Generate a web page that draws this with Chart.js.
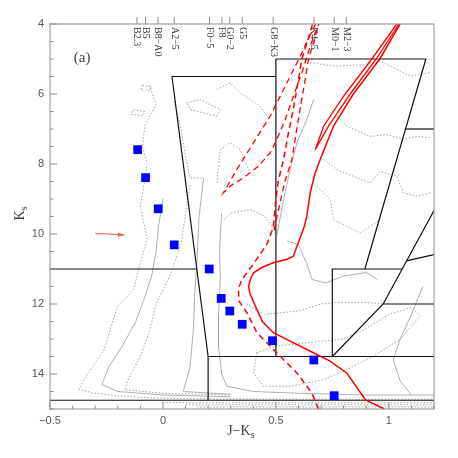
<!DOCTYPE html>
<html>
<head>
<meta charset="utf-8">
<script src="https://cdn.jsdelivr.net/npm/chart.js@4.4.1/dist/chart.umd.min.js"></script>
<style>
  body { margin: 0; background: #fff; }
  #chartID { display: block; }
</style>
</head>
<body>
<canvas id="chartID" width="458" height="458"></canvas>
<script>
// spectral types along the top axis, J-Ks colour
const specTypes = ['B2.3', 'B5', 'B8\u2212A0', 'A2\u22125', 'F0\u22125', 'F8', 'G0\u22122', 'G5', 'G8\u2212K3', 'K4\u22125', 'M0\u22121', 'M2\u22123']
const specColours = [-0.115, -0.077, -0.022, 0.05, 0.206, 0.261, 0.296, 0.351, 0.488, 0.669, 0.758, 0.812]

// blue squares (J-Ks, Ks)
const squareJK = [-0.112, -0.077, -0.021, 0.05, 0.205, 0.258, 0.296, 0.351, 0.485, 0.668, 0.758]
const squareK = [7.59, 8.39, 9.28, 10.31, 11.0, 11.84, 12.2, 12.58, 13.05, 13.6, 14.62]

// red isochrones
const isoSolid = [[0.98,15.0],[0.897,14.74],[0.814,13.97],[0.74,13.63],[0.637,13.3],[0.55,13.02],[0.489,12.82],[0.44,12.5],[0.416,12.16],[0.385,11.7],[0.379,11.49],[0.39,11.25],[0.401,11.11],[0.44,10.95],[0.489,10.82],[0.55,10.72],[0.578,10.63],[0.593,10.35],[0.608,10.1],[0.625,9.8],[0.637,9.49],[0.652,8.82],[0.672,8.3],[0.696,7.87],[0.755,6.92],[0.843,6.0],[0.96,5.0],[1.05,4.0]]
const isoSolidLoop = [[1.035,4.0],[0.925,5.0],[0.807,6.0],[0.711,6.92],[0.674,7.59],[0.733,6.92],[0.829,6.0],[0.944,5.0],[1.045,4.0]]
const isoDashed = [[0.689,15.0],[0.659,14.54],[0.593,13.97],[0.489,13.3],[0.416,12.82],[0.372,12.25],[0.335,11.9],[0.335,11.55],[0.35,11.3],[0.401,10.85],[0.46,10.3],[0.489,9.8],[0.497,9.2],[0.51,8.5],[0.534,7.87],[0.556,7.1],[0.577,6.44],[0.597,5.7],[0.615,5.0],[0.64,4.5],[0.662,4.0]]
const isoDashedB = [[0.492,9.9],[0.515,9.2],[0.54,8.5],[0.571,7.87],[0.59,7.1],[0.607,6.44],[0.627,5.7],[0.644,5.0],[0.668,4.5],[0.69,4.0]]
const isoDashedLoop = [[0.675,4.0],[0.608,4.92],[0.549,5.68],[0.475,6.63],[0.401,7.39],[0.327,8.16],[0.268,8.82],[0.30,8.62],[0.357,8.39],[0.423,8.06],[0.475,7.68],[0.504,7.3],[0.541,6.73],[0.578,6.06],[0.615,5.39],[0.652,4.63],[0.69,4.0]]

// black selection boxes
const boxLines = [
  [[0.04,5.5],[0.5,5.5]],
  [[0.04,5.5],[0.2,13.5],[0.2,14.75]],
  [[0.5,5.0],[0.5,13.5]],
  [[-0.5,11.0],[0.15,11.0]],
  [[0.2,13.5],[1.2,13.5]],
  [[-0.5,14.75],[1.2,14.75]],
  [[0.5,5.0],[1.164,5.0],[0.894,11.0]],
  [[0.75,13.5],[0.75,11.0],[1.059,11.0]],
  [[0.75,13.5],[0.975,12.0],[1.2,9.33]],
  [[0.975,12.0],[1.2,12.0]],
  [[1.078,10.77],[1.2,10.59]],
  [[1.073,7.0],[1.2,7.0]]
]

// density contours (grey)
const contoursDotted = [
  [[-0.06,5.75],[-0.03,6.3],[-0.08,6.9],[-0.09,7.5],[-0.07,8.0],[-0.08,8.44],[-0.1,9.2],[-0.07,10.16],[-0.1,10.82],[-0.13,11.59],[-0.2,12.06],[-0.22,12.44],[-0.26,13.3],[-0.31,13.78],[-0.35,14.16],[-0.37,14.44],[-0.31,14.54],[-0.2,14.63],[-0.06,14.68],[0.2,14.71],[0.6,14.72],[1.2,14.72]],
  [[0.12,8.6],[0.1,9.4],[0.08,10.3],[0.03,11.2],[-0.03,12.0],[-0.06,12.8],[-0.1,13.5],[-0.15,14.1],[-0.17,14.45],[0.0,14.55],[0.3,14.6]],
  [[0.27,9.6],[0.3,9.4],[0.39,9.3],[0.45,9.5],[0.5,9.9]],
  [[0.37,12.0],[0.45,12.3],[0.52,12.25],[0.6,12.2],[0.7,12.0],[0.78,11.95],[0.88,11.95],[1.0,12.0]],
  [[0.416,13.39],[0.401,13.97],[0.445,14.35],[0.563,14.35],[0.711,14.16],[0.815,13.87],[0.932,13.49],[1.05,13.01],[1.138,12.35],[1.1,12.1],[1.0,12.3],[0.9,12.7],[0.8,13.0],[0.65,13.1],[0.5,13.2],[0.416,13.39]],
  [[0.106,6.25],[0.165,6.16],[0.224,6.35],[0.254,6.44],[0.239,6.63],[0.18,6.54],[0.121,6.44],[0.106,6.25]],
  [[0.239,5.87],[0.298,5.68],[0.342,5.97],[0.386,6.16],[0.431,6.35],[0.46,6.63]],
  [[0.239,8.54],[0.254,7.59],[0.298,7.39],[0.342,7.59],[0.372,8.06],[0.401,8.35]],
  [[0.05,6.2],[0.08,7.0],[0.1,7.8],[0.12,8.4],[0.18,8.4]],
  [[-0.09,5.75],[-0.05,5.8],[-0.06,5.9],[-0.1,5.88],[-0.09,5.75]],
  [[-0.13,6.45],[-0.08,6.5],[-0.09,6.62],[-0.14,6.58],[-0.13,6.45]],
  [[0.652,5.11],[0.77,5.21],[0.888,5.16],[0.962,5.06],[1.095,5.49],[1.18,5.39]],
  [[0.77,6.63],[0.814,6.92],[0.917,7.21],[0.991,7.16],[1.065,7.3],[1.124,7.21],[1.183,7.25]],
  [[0.711,7.87],[0.77,8.16],[0.843,8.35],[0.917,8.54],[0.962,8.21],[1.035,8.35],[1.065,8.82],[1.124,8.92],[1.183,8.82]],
  [[0.681,8.63],[0.74,9.01],[0.755,9.59],[0.814,9.78],[0.873,9.97],[0.917,9.78],[0.962,9.59]],
  [[0.0,14.82],[1.2,14.82]],
  [[0.1,14.88],[1.2,14.88]],
  [[0.15,14.94],[1.2,14.94]]
]
const contoursSolid = [
  [[0.0,9.0],[-0.02,9.8],[-0.03,10.5],[-0.05,11.2],[-0.08,11.8],[-0.12,12.5],[-0.18,13.2],[-0.24,13.8],[-0.27,14.3],[-0.2,14.5],[0.0,14.6],[0.3,14.65]],
  [[0.18,8.4],[0.16,9.5],[0.15,10.8],[0.14,11.8],[0.135,12.7],[0.12,13.8],[0.09,14.5],[0.3,14.58]],
  [[0.26,9.4],[0.25,10.5],[0.254,11.3],[0.246,12.3],[0.246,13.2],[0.26,14.0],[0.283,14.35],[0.4,14.5],[0.6,14.55],[0.9,14.6],[1.2,14.6]],
  [[0.55,10.2],[0.6,10.3],[0.64,10.9],[0.66,11.3],[0.72,11.4],[0.8,11.2],[0.9,11.1],[0.95,11.3]],
  [[1.15,11.5],[1.1,12.3],[1.05,13.0],[1.02,13.6],[1.05,14.2],[1.1,14.6]],
  [[0.504,10.06],[0.534,9.01],[0.563,8.16],[0.593,7.39],[0.637,6.73],[0.667,6.16]]
]

// reddening arrow
const arrowFrom = [-0.30, 9.98]
const arrowTo = [-0.17, 10.03]
const panelLabel = '(a)'
const panelPos = [-0.358, 4.98]

const toXY = pts => pts.map(p => ({ x: p[0], y: p[1] }))
const lineSet = (pts, colour, width, dash) => ({
  data: toXY(pts), showLine: true, pointRadius: 0, borderColor: colour,
  borderWidth: width, borderDash: dash, tension: 0, fill: false
})

let datasets = []
datasets.push({
  data: squareJK.map((v, i) => ({ x: v, y: squareK[i] })),
  pointStyle: 'rect', pointRadius: 6.2, backgroundColor: '#0000ff', borderWidth: 0
})
datasets.push(lineSet(isoSolid, '#ff0000', 1.5, []))
datasets.push(lineSet(isoSolidLoop, '#ff0000', 1.3, []))
datasets.push(lineSet(isoDashed, '#ff0000', 1.5, [6, 4]))
datasets.push(lineSet(isoDashedB, '#ff0000', 1.3, [6, 4]))
datasets.push(lineSet(isoDashedLoop, '#ff0000', 1.3, [6, 4]))
boxLines.forEach(b => datasets.push(lineSet(b, '#111', 1.2, [])))
contoursSolid.forEach(c => datasets.push(lineSet(c, '#9a9a9a', 0.8, [])))
contoursDotted.forEach(c => datasets.push(lineSet(c, '#8a8a8a', 0.8, [1.5, 1.8])))

// frame, inward ticks, top spectral labels, titles, arrow
const decorations = {
  id: 'decorations',
  afterDraw(chart) {
    const ctx = chart.ctx
    const a = chart.chartArea
    const xs = chart.scales.x
    const ys = chart.scales.y
    ctx.save()
    ctx.strokeStyle = '#8c8c8c'
    ctx.lineWidth = 1
    ctx.strokeRect(a.left, a.top, a.right - a.left, a.bottom - a.top)
    ctx.beginPath()
    for (let i = 0; i <= 17; i++) {
      const v = -0.5 + i * 0.1
      const px = xs.getPixelForValue(v)
      const len = (Math.abs(v * 2 - Math.round(v * 2)) < 1e-6) ? 7 : 3.5
      ctx.moveTo(px, a.bottom); ctx.lineTo(px, a.bottom - len)
    }
    for (let i = 0; i <= 22; i++) {
      const v = 4 + i * 0.5
      const py = ys.getPixelForValue(v)
      const len = (v % 2 === 0) ? 7 : 3.5
      ctx.moveTo(a.left, py); ctx.lineTo(a.left + len, py)
    }
    specColours.forEach(v => {
      const px = xs.getPixelForValue(v)
      ctx.moveTo(px, a.top); ctx.lineTo(px, a.top - 7)
    })
    ctx.stroke()

    ctx.fillStyle = '#333'
    ctx.font = '10px "Liberation Serif"'
    ctx.textBaseline = 'middle'
    ctx.textAlign = 'left'
    specTypes.forEach((t, i) => {
      ctx.save()
      ctx.translate(xs.getPixelForValue(specColours[i]), a.top + 3)
      ctx.rotate(Math.PI / 2)
      ctx.fillText(t, 0, 0)
      ctx.restore()
    })

    ctx.font = '15px "Liberation Serif"'
    ctx.fillStyle = '#444'
    ctx.textAlign = 'center'
    ctx.fillText(panelLabel, xs.getPixelForValue(panelPos[0]), ys.getPixelForValue(panelPos[1]))

    // x title J-Ks
    ctx.textBaseline = 'alphabetic'
    ctx.textAlign = 'left'
    ctx.font = '14px "Liberation Serif"'
    const main = 'J\u2212K'
    const w = ctx.measureText(main).width
    const cx = (a.left + a.right) / 2
    ctx.fillText(main, cx - w / 2 - 3, 435)
    ctx.font = '10px "Liberation Serif"'
    ctx.fillText('s', cx + w / 2 - 3, 438)

    // y title Ks
    ctx.save()
    ctx.translate(24, (a.top + a.bottom) / 2 + 4)
    ctx.rotate(-Math.PI / 2)
    ctx.font = '14px "Liberation Serif"'
    ctx.fillText('K', 0, 0)
    ctx.font = '10px "Liberation Serif"'
    ctx.fillText('s', ctx.measureText('K').width + 3, 3)
    ctx.restore()

    // arrow
    const x0 = xs.getPixelForValue(arrowFrom[0]), y0 = ys.getPixelForValue(arrowFrom[1])
    const x1 = xs.getPixelForValue(arrowTo[0]), y1 = ys.getPixelForValue(arrowTo[1])
    const ang = Math.atan2(y1 - y0, x1 - x0)
    ctx.strokeStyle = '#ff5555'
    ctx.fillStyle = '#ff5555'
    ctx.lineWidth = 1
    ctx.beginPath(); ctx.moveTo(x0, y0); ctx.lineTo(x1, y1); ctx.stroke()
    ctx.beginPath()
    ctx.moveTo(x1, y1)
    ctx.lineTo(x1 - 7 * Math.cos(ang - 0.3), y1 - 7 * Math.sin(ang - 0.3))
    ctx.lineTo(x1 - 7 * Math.cos(ang + 0.3), y1 - 7 * Math.sin(ang + 0.3))
    ctx.closePath(); ctx.fill()
    ctx.restore()
  }
}

const fmt = v => (v < 0 ? '\u2212' : '') + String(Math.abs(Math.round(v * 10) / 10))

window.onload = function() {
  const chartCtx = document.getElementById('chartID').getContext('2d')
  window.cmdChart = new Chart(chartCtx, {
    type: 'scatter',
    data: { datasets: datasets },
    options: {
      responsive: false,
      animation: false,
      layout: { padding: { top: 24, right: 24, left: 0, bottom: 0 } },
      plugins: { legend: { display: false }, tooltip: { enabled: false } },
      scales: {
        x: {
          type: 'linear', min: -0.5, max: 1.2,
          grid: { display: false, drawTicks: false },
          border: { display: false },
          ticks: { stepSize: 0.5, includeBounds: false, padding: 5, color: '#555',
            font: { family: 'Liberation Sans', size: 11 }, callback: v => fmt(v) },
          afterFit: s => { s.height = 49 }
        },
        y: {
          type: 'linear', min: 4, max: 15, reverse: true,
          grid: { display: false, drawTicks: false },
          border: { display: false },
          ticks: { stepSize: 2, includeBounds: false, padding: 6, color: '#555',
            font: { family: 'Liberation Sans', size: 11 }, callback: v => fmt(v) },
          afterFit: s => { s.width = 50 }
        }
      }
    },
    plugins: [decorations]
  })
}
</script>
</body>
</html>
